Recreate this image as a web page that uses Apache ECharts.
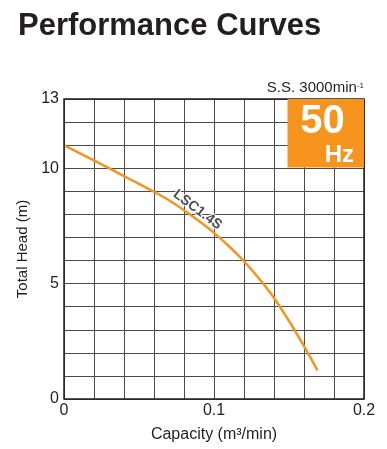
<!DOCTYPE html>
<html>
<head>
<meta charset="utf-8">
<script src="https://cdn.jsdelivr.net/npm/echarts@6/dist/echarts.min.js"></script>
<style>
html,body{margin:0;padding:0;background:#fff;}
#chart{width:387px;height:449px;}
</style>
</head>
<body>
<div id="chart"></div>
<script>
var capacity = [0, 0.01, 0.02, 0.03, 0.04, 0.05, 0.06, 0.07, 0.08, 0.09, 0.10, 0.11, 0.12, 0.13, 0.14, 0.15, 0.16, 0.169];
var head =     [11.0, 10.67, 10.34, 10.0, 9.66, 9.32, 8.98, 8.61, 8.18, 7.71, 7.2, 6.62, 5.97, 5.22, 4.38, 3.38, 2.29, 1.24];
var xTickLabels = [0, 0.1, 0.2];
var yTickLabels = [0, 5, 10, 13];
var curveName = 'LSC1.4S';
var labelPoint = [0.089, 8.2];

var chart = echarts.init(document.getElementById('chart'));
var seriesData = capacity.map(function (c, i) { return [c, head[i]]; });
var font = 'Liberation Sans, Arial, Helvetica, sans-serif';
var txt = '#231f20';

function inList(v, list) {
  for (var i = 0; i < list.length; i++) if (Math.abs(v - list[i]) < 1e-9) return list[i];
  return null;
}

chart.setOption({
  animation: false,
  backgroundColor: '#fff',
  title: {
    text: 'Performance Curves',
    left: 13, top: 6,
    textStyle: { fontFamily: font, fontSize: 31, fontWeight: 'bold', color: txt }
  },
  grid: { left: 64, right: 23, top: 99, bottom: 50 },
  xAxis: {
    type: 'value', min: 0, max: 0.2, interval: 0.02,
    name: 'Capacity (m³/min)', nameLocation: 'middle', nameGap: 28,
    nameTextStyle: { fontFamily: font, fontSize: 16, color: txt },
    axisLine: { show: false },
    axisTick: { show: false },
    axisLabel: {
      fontFamily: font, fontSize: 16, color: txt, margin: 4,
      showMinLabel: true, showMaxLabel: true,
      formatter: function (v) { var r = inList(v, xTickLabels); return r === null ? '' : String(r); }
    },
    splitLine: { show: true, lineStyle: { color: '#4a4a4a', width: 1 } }
  },
  yAxis: {
    type: 'value', min: 0, max: 13, interval: 1,
    name: 'Total Head (m)', nameLocation: 'middle', nameGap: 31,
    nameTextStyle: { fontFamily: font, fontSize: 15, color: txt },
    axisLine: { show: false },
    axisTick: { show: false },
    axisLabel: {
      fontFamily: font, fontSize: 16, color: txt, margin: 5,
      formatter: function (v) { var r = inList(v, yTickLabels); return r === null ? '' : String(r); }
    },
    splitLine: { show: true, lineStyle: { color: '#4a4a4a', width: 1 } }
  },
  series: [{
    type: 'line',
    data: seriesData,
    smooth: 0.25,
    showSymbol: false,
    symbol: 'none',
    lineStyle: { color: '#F7941D', width: 2.5 },
    z: 3
  }, {
    type: 'scatter',
    data: [{
      value: labelPoint,
      label: {
        show: true, formatter: curveName, position: 'inside', rotate: -37,
        fontFamily: font, fontSize: 14, fontWeight: 'bold', color: txt,
        textBorderColor: '#fff', textBorderWidth: 2.5
      }
    }],
    symbolSize: 0,
    itemStyle: { color: 'transparent' },
    silent: true,
    z: 4
  }]
});

var x0 = chart.convertToPixel({ gridIndex: 0 }, [0, 13]);
var x1 = chart.convertToPixel({ gridIndex: 0 }, [0.2, 0]);
chart.setOption({
  graphic: [
    { type: 'rect', shape: { x: x0[0], y: x0[1], width: x1[0] - x0[0], height: x1[1] - x0[1] },
      style: { fill: 'none', stroke: '#231f20', lineWidth: 1.5 }, z: 10 },
    { type: 'rect', shape: { x: 287.5, y: 99, width: x1[0] - 287.5, height: 68.5 },
      style: { fill: '#F7941D' }, z: 11 },
    { type: 'text', x: 322.5, y: 122, z: 12,
      style: { text: '50', fontFamily: font, fontSize: 40, fontWeight: 'bold', fill: '#fff', align: 'center', verticalAlign: 'middle' } },
    { type: 'text', x: 354, y: 155, z: 12,
      style: { text: 'Hz', fontFamily: font, fontSize: 24, fontWeight: 'bold', fill: '#fff', align: 'right', verticalAlign: 'middle' } },
    { type: 'text', x: 364, y: 88, z: 12,
      style: {
        text: '{a|S.S. 3000min}{b|-1}',
        align: 'right', verticalAlign: 'middle',
        rich: {
          a: { fontFamily: font, fontSize: 15, fill: txt, color: txt },
          b: { fontFamily: font, fontSize: 8, fill: txt, color: txt, padding: [0, 0, 5, 0] }
        }
      } }
  ]
});
</script>
</body>
</html>
